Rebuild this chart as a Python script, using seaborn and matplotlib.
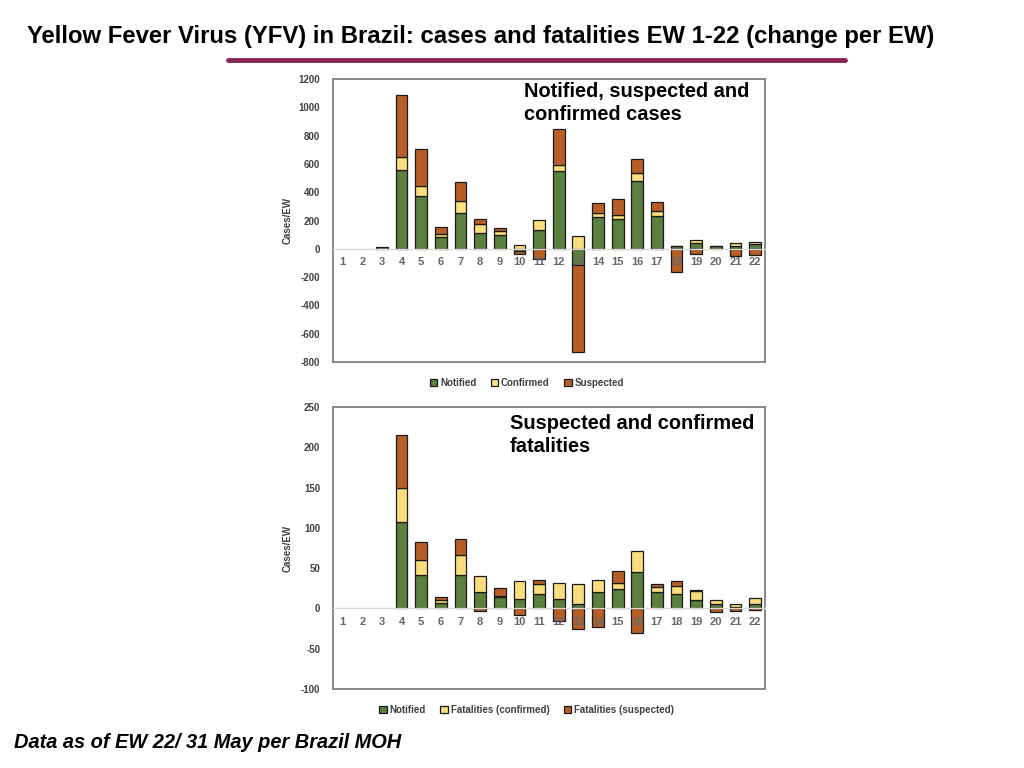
import numpy as np
import matplotlib
matplotlib.use("Agg")
import matplotlib.pyplot as plt
from matplotlib.patches import Patch
import seaborn as sns

# epidemiological weeks
ew = [str(i) for i in range(1, 23)]

# change per EW - cases
cases_notified = [0, 0, 10, 560, 370, 85, 255, 115, 95, -15, 135, 550, -115, 228, 212, 480, 235, 18, 42, 20, 23, 35]
cases_confirmed = [0, 0, 0, 90, 75, 20, 85, 60, 30, 25, 70, 40, 90, 27, 26, 57, 33, 4, 22, 3, 19, 12]
cases_suspected = [0, 0, 0, 440, 262, 52, 130, 35, 25, -25, -75, 255, -612, 71, 115, 100, 63, -163, -40, 0, -50, -42]

# change per EW - fatalities
fat_notified = [0, 0, 0, 107, 42, 7, 42, 20, 14, 12, 18, 12, 5, 20, 24, 45, 20, 18, 11, 5, 2, 6]
fat_confirmed = [0, 0, 0, 42, 18, 4, 24, 20, 2, 22, 12, 19, 25, 15, 7, 26, 6, 10, 10, 5, 4, 7]
fat_suspected = [0, 0, 0, 66, 22, 3, 20, -3, 9, -8, 5, -16, -25, -23, 15, -30, 4, 6, 2, -5, -3, -2]

cases_names = ["Notified", "Confirmed", "Suspected"]
fat_names = ["Notified", "Fatalities (confirmed)", "Fatalities (suspected)"]

colors = ["#5b7f3d", "#fadd7c", "#b85f28"]

sns.set_style("white")
plt.rcParams["font.family"] = ["Liberation Sans", "DejaVu Sans"]
plt.rcParams["text.color"] = "black"
plt.rcParams["axes.unicode_minus"] = False


def stack_bottoms(series):
    # positive values stack upward, negative ones downward (like excel)
    pos = np.zeros(len(ew))
    neg = np.zeros(len(ew))
    out = []
    for s in series:
        s = np.asarray(s, dtype=float)
        out.append(np.where(s >= 0, pos, neg))
        pos = pos + np.clip(s, 0, None)
        neg = neg + np.clip(s, None, 0)
    return out


def draw_panel(ax, series, names, ylim, yticks, note, note_xy):
    bottoms = stack_bottoms(series)
    for s, b, c in zip(series, bottoms, colors):
        sns.barplot(x=ew, y=s, bottom=b, color=c, saturation=1, width=0.6,
                    edgecolor="#1a1a1a", linewidth=0.9, errorbar=None, ax=ax)
    # empty segments should not leave an outline behind
    for p in ax.patches:
        if p.get_height() == 0:
            p.set_visible(False)
    ax.set_axisbelow(False)
    ax.set_ylim(*ylim)
    ax.set_yticks(yticks)
    ax.set_xlabel("")
    ax.set_ylabel("Cases/EW", fontsize=7, fontweight="bold", color="#404040")
    ax.yaxis.set_label_coords(-0.093, 0.5)

    for side in ["top", "right", "left"]:
        ax.spines[side].set_color("#7f7f7f")
        ax.spines[side].set_linewidth(1.3)
    ax.spines["bottom"].set_position(("data", 0))
    ax.spines["bottom"].set_color("#d9d9d9")
    ax.spines["bottom"].set_linewidth(1.0)
    ax.axhline(ylim[0], color="#7f7f7f", lw=1.3, clip_on=False)

    ax.tick_params(axis="x", length=0, pad=6, labelsize=8, labelcolor="#666666")
    ax.tick_params(axis="y", length=0, pad=9, labelsize=7, labelcolor="#404040")
    for lbl in ax.get_xticklabels() + ax.get_yticklabels():
        lbl.set_fontweight("bold")

    handles = [Patch(facecolor=c, edgecolor="#1a1a1a", linewidth=0.9) for c in colors]
    leg = ax.legend(handles, names, loc="center", bbox_to_anchor=(0.449, -0.074), ncol=3,
                    frameon=False, fontsize=7, handlelength=0.75, handleheight=0.75,
                    handletextpad=0.3, columnspacing=1.5)
    for t in leg.get_texts():
        t.set_color("#404040")
        t.set_fontweight("bold")

    fig.text(note_xy[0], note_xy[1], note, fontsize=14.4, fontweight="bold",
             va="center", ha="left", linespacing=1.31)


fig = plt.figure(figsize=(10.24, 7.68), dpi=100)

ax1 = fig.add_axes([0.325, 0.5286, 0.422, 0.3685])
draw_panel(ax1, [cases_notified, cases_confirmed, cases_suspected], cases_names,
           (-800, 1200), range(-800, 1201, 200),
           "Notified, suspected and\nconfirmed cases", (524 / 1024, 1 - 103 / 768))

ax2 = fig.add_axes([0.325, 0.1029, 0.422, 0.3672])
draw_panel(ax2, [fat_notified, fat_confirmed, fat_suspected], fat_names,
           (-100, 250), range(-100, 251, 50),
           "Suspected and confirmed\nfatalities", (510 / 1024, 1 - 435 / 768))

fig.text(27 / 1024, 1 - 37 / 768,
         "Yellow Fever Virus (YFV) in Brazil: cases and fatalities EW 1-22 (change per EW)",
         fontsize=17.2, fontweight="bold", va="center", ha="left")
fig.add_artist(plt.Line2D([228 / 1024, 845 / 1024], [1 - 60 / 768, 1 - 60 / 768],
                          color="#8b2252", lw=3.5))
fig.text(14 / 1024, 1 - 742 / 768, "Data as of EW 22/ 31 May per Brazil MOH",
         fontsize=14.4, fontweight="bold", style="italic", va="center", ha="left")

fig.savefig("out.png", dpi=100)
